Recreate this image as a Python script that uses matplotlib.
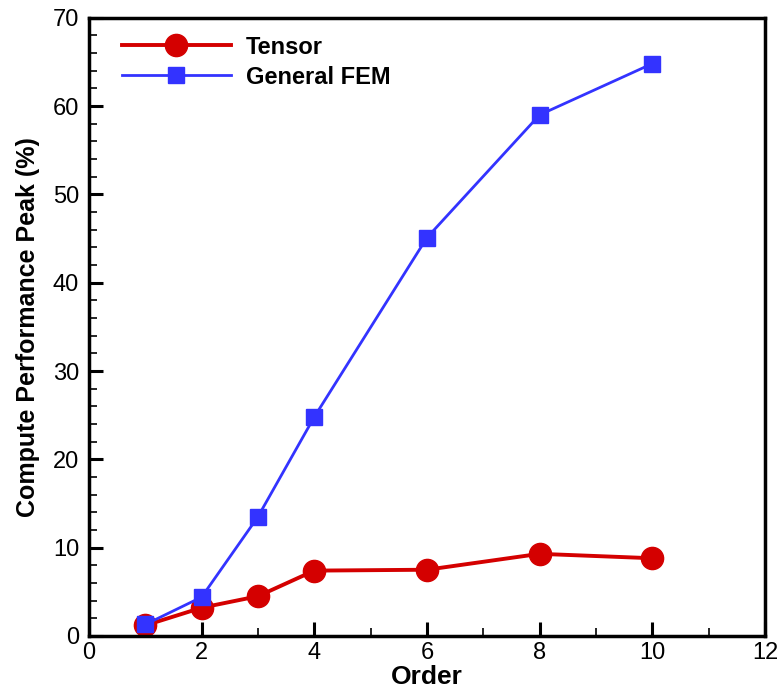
import numpy as np
import matplotlib.pyplot as plt
from matplotlib.ticker import MultipleLocator

plt.rcParams['font.family'] = ['Liberation Sans', 'DejaVu Sans']

# Peak compute performance vs. polynomial order
order = [1, 2, 3, 4, 6, 8, 10]
tensor = [1.2, 3.2, 4.5, 7.4, 7.5, 9.3, 8.8]
general_fem = [1.3, 4.4, 13.5, 24.8, 45.1, 59.0, 64.8]

fig = plt.figure(figsize=(7.77, 6.9), dpi=100)
ax = fig.add_axes([0.1145, 0.0783, 0.870, 0.896])

ax.plot(order, tensor, color='#d40000', lw=2.8, marker='o', ms=16,
        label='Tensor', zorder=2)
ax.plot(order, general_fem, color='#3333ff', lw=2.0, marker='s', ms=11,
        label='General FEM', zorder=3)

ax.set_xlim(0, 12)
ax.set_ylim(0, 70)
ax.xaxis.set_major_locator(MultipleLocator(2))
ax.xaxis.set_minor_locator(MultipleLocator(1))
ax.yaxis.set_major_locator(MultipleLocator(10))
ax.yaxis.set_minor_locator(MultipleLocator(2))
ax.tick_params(which='both', direction='in', top=False, right=False,
               labelsize=17)
ax.tick_params(which='major', length=10, width=2.2, pad=7)
ax.tick_params(axis='x', which='major', pad=4)
ax.tick_params(which='minor', length=6, width=1.2)
for s in ax.spines.values():
    s.set_linewidth(2.5)

ax.set_xlabel('Order', fontsize=19, fontweight='bold', labelpad=1)
ax.set_ylabel('Compute Performance Peak (%)', fontsize=18, fontweight='bold',
              labelpad=9)

ax.legend(loc='upper left', frameon=False,
          prop={'weight': 'bold', 'size': 17}, handlelength=4.6,
          borderaxespad=0, borderpad=0, labelspacing=0.3, handletextpad=0.65,
          bbox_to_anchor=(0.049, 0.971))

fig.savefig('out.png', dpi=100)
